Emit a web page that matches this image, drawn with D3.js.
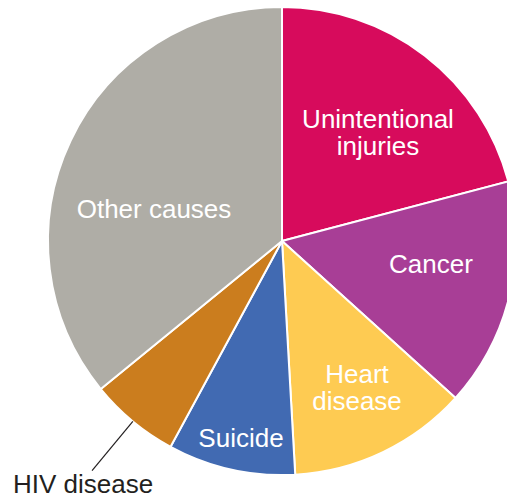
<!DOCTYPE html>
<html>
<head>
<meta charset="utf-8" />
<title>Causes of death pie</title>
<script src="https://d3js.org/d3.v7.min.js"></script>
<style>
  body { margin: 0; background: #fff; }
  svg { display: block; font-family: "Liberation Sans", Arial, sans-serif; }
</style>
</head>
<body>
<svg id="chart" width="507" height="494"></svg>
<script>
// slices, clockwise from 12 o'clock (percent share)
var causes = ["Unintentional injuries", "Cancer", "Heart disease", "Suicide", "HIV disease", "Other causes"];
var shares = [20.9, 15.8, 12.4, 8.8, 6.2, 35.9];
var colors = ["#d70b5c", "#a83e96", "#fecb52", "#416ab2", "#cb7d1e", "#afada6"];

var width = 507, height = 494;
var cx = 282, cy = 241, radius = 234;

// hand placed label spots, relative to the pie centre
var labelSpots = {
  "Unintentional injuries": { x: 96, y: -113, lines: ["Unintentional", "injuries"] },
  "Cancer": { x: 149, y: 32, lines: ["Cancer"] },
  "Heart disease": { x: 75, y: 142, lines: ["Heart", "disease"] },
  "Suicide": { x: -41, y: 206, lines: ["Suicide"] },
  "Other causes": { x: -128, y: -23, lines: ["Other causes"] }
};

var data = causes.map(function(c, i) { return { cause: c, value: shares[i], color: colors[i] }; });

var pie = d3.pie().sort(null).value(function(d) { return d.value; });
var arc = d3.arc().innerRadius(0).outerRadius(radius);

var svg = d3.select("#chart");
var g = svg.append("g").attr("transform", "translate(" + cx + "," + cy + ")");

var arcs = pie(data);

g.selectAll("path.slice")
  .data(arcs)
  .enter().append("path")
  .attr("class", "slice")
  .attr("d", arc)
  .attr("fill", function(d) { return d.data.color; })
  .attr("stroke", "#fff")
  .attr("stroke-width", 2)
  .attr("stroke-linejoin", "round");

// inside labels
arcs.forEach(function(a) {
  var spot = labelSpots[a.data.cause];
  if (!spot) return;
  var t = g.append("text")
    .attr("text-anchor", "middle")
    .attr("fill", "#fff")
    .attr("font-size", 26);
  spot.lines.forEach(function(line, i) {
    t.append("tspan").attr("x", spot.x).attr("y", spot.y + i * 27).text(line);
  });
});

// outside label for HIV with leader line
var hiv = arcs[causes.indexOf("HIV disease")];
var mid = (hiv.startAngle + hiv.endAngle) / 2;
var p0 = [Math.sin(mid) * radius, -Math.cos(mid) * radius];
var p1 = [Math.sin(mid) * 298, -Math.cos(mid) * 298];

g.append("line")
  .attr("x1", p0[0]).attr("y1", p0[1])
  .attr("x2", p1[0]).attr("y2", p1[1])
  .attr("stroke", "#231f20")
  .attr("stroke-width", 1.2);

g.append("text")
  .attr("x", -269)
  .attr("y", 252)
  .attr("fill", "#231f20")
  .attr("font-size", 26)
  .text("HIV disease");
</script>
</body>
</html>
